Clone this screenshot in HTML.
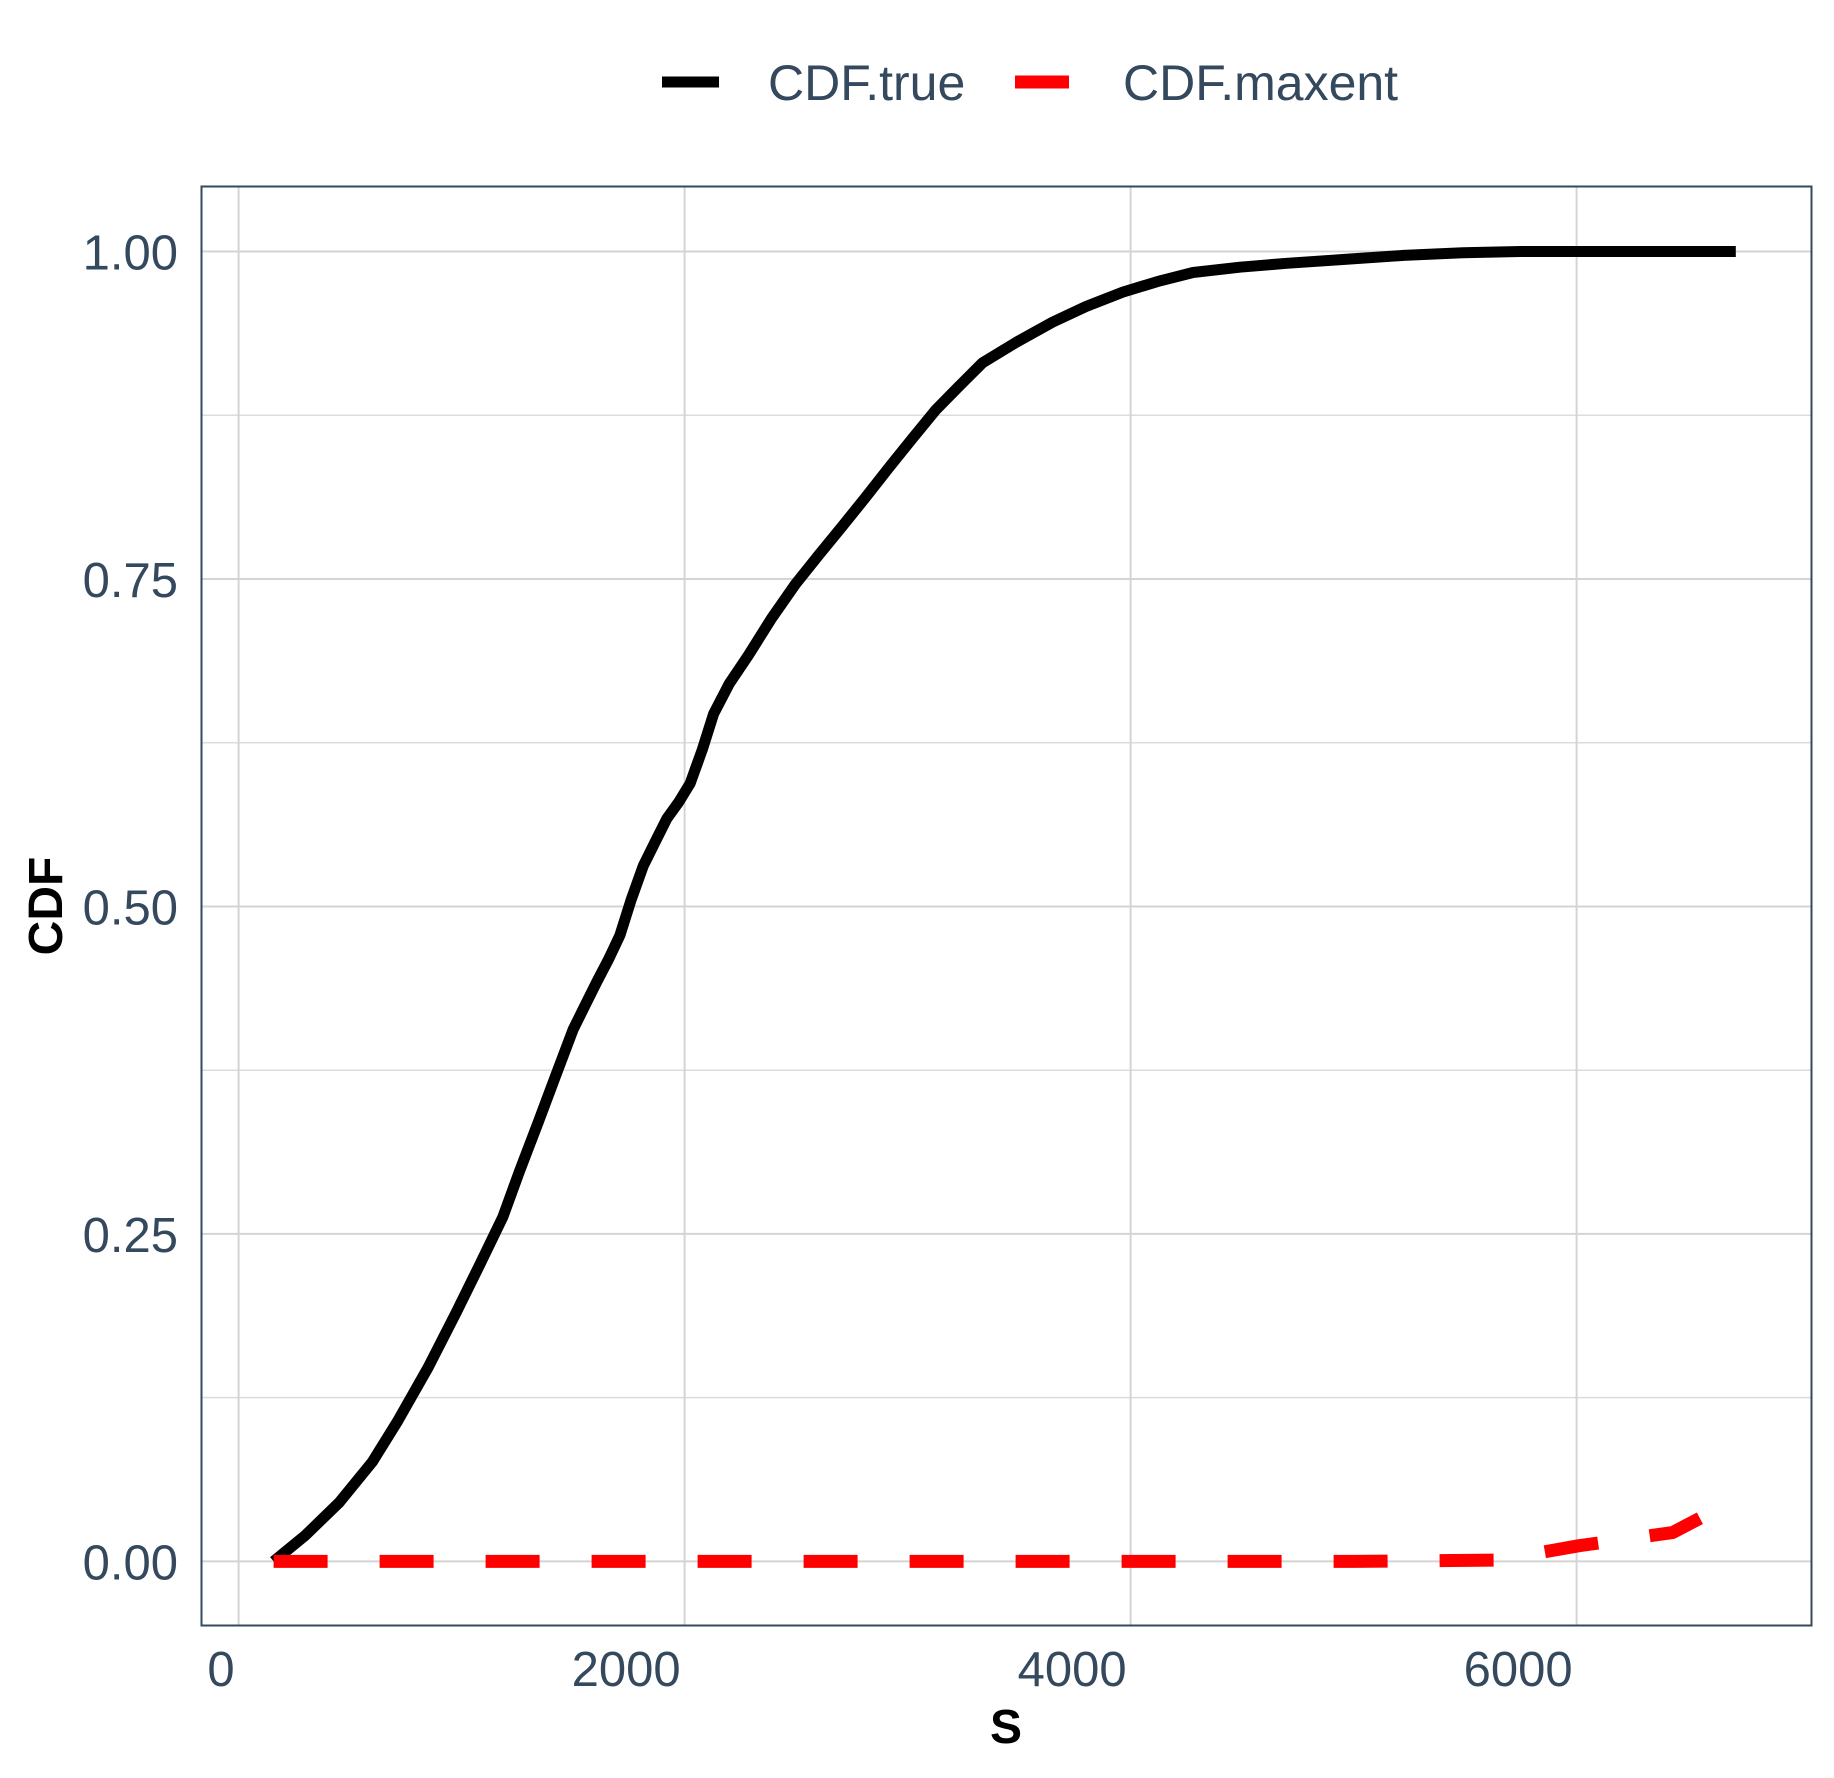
<!DOCTYPE html>
<html><head><meta charset="utf-8"><style>
body{margin:0;background:#fff;}
svg{display:block;font-family:"Liberation Sans",sans-serif;}
</style></head><body>
<svg id="chart" width="1834" height="1778" viewBox="0 0 1834 1778">
<g id="grid"></g>
<g id="series"></g>
<rect x="201.5" y="186.5" width="1610" height="1439" fill="none" stroke="#34495e" stroke-width="2"/>
<g id="ticks" fill="#34495e" font-size="49"></g>
<text x="1006" y="1743" text-anchor="middle" font-size="48" font-weight="bold" fill="#000">S</text>
<text transform="translate(62,906) rotate(-90)" text-anchor="middle" font-size="48" font-weight="bold" fill="#000">CDF</text>
<g>
<line x1="662" y1="82" x2="719" y2="82" stroke="#000" stroke-width="11"/>
<text x="768" y="100" font-size="50" fill="#34495e">CDF.true</text>
<line x1="1015" y1="82" x2="1069" y2="82" stroke="#ff0000" stroke-width="13"/>
<text x="1123" y="100" font-size="50" fill="#34495e">CDF.maxent</text>
</g>
</svg>
<script>
const xTicks=[0,2000,4000,6000];
const yTicks=[0,0.25,0.5,0.75,1];
const yTickLabels=["0.00","0.25","0.50","0.75","1.00"];
const yMinor=[0.125,0.375,0.625,0.875];
const trueS=[157,300,451,600,713,850,976,1080,1185,1260,1343,1420,1500,1555,1605,1660,1710,1760,1815,1870,1920,1975,2025,2080,2130,2200,2287,2390,2497,2600,2706,2810,2916,3020,3126,3230,3336,3490,3650,3800,3965,4120,4280,4490,4700,4960,5224,5490,5749,6200,6714];
const trueCDF=[0,0.02,0.045,0.076,0.107,0.148,0.19,0.226,0.263,0.298,0.335,0.37,0.406,0.425,0.442,0.46,0.478,0.505,0.531,0.55,0.567,0.58,0.594,0.62,0.647,0.67,0.692,0.72,0.746,0.768,0.79,0.812,0.835,0.857,0.879,0.897,0.915,0.931,0.946,0.958,0.969,0.977,0.984,0.988,0.991,0.994,0.997,0.999,1.0,1.0,1.0];
const maxS=[157,1000,2000,3000,4000,5000,5644,6011,6430,6588];
const maxCDF=[0,0,0,0,0,0,0.001,0.012,0.022,0.036];
const sx=v=>238.6+v*(1576.6-238.6)/6000;
const sy=v=>1561.4-v*(1561.4-251.5);
const NS="http://www.w3.org/2000/svg";
const grid=document.getElementById('grid'),ticks=document.getElementById('ticks'),ser=document.getElementById('series');
function ln(p,x1,y1,x2,y2,c,w){const l=document.createElementNS(NS,'line');l.setAttribute('x1',x1);l.setAttribute('y1',y1);l.setAttribute('x2',x2);l.setAttribute('y2',y2);l.setAttribute('stroke',c);l.setAttribute('stroke-width',w);p.appendChild(l);return l;}
yMinor.forEach(v=>{const l=ln(grid,201,sy(v),1811,sy(v),'#dcdcdc',1.5);

});
yTicks.forEach((v,i)=>{const l=ln(grid,201,sy(v),1811,sy(v),'#d4d4d4',2);


const t=document.createElementNS(NS,'text');t.setAttribute('x',178);t.setAttribute('y',sy(v)+18);t.setAttribute('text-anchor','end');t.textContent=yTickLabels[i];


ticks.appendChild(t);});
xTicks.forEach(v=>{const l=ln(grid,sx(v),186,sx(v),1626,'#d4d4d4',2);


const t=document.createElementNS(NS,'text');t.setAttribute('x',sx(v)-4);t.setAttribute('y',1686);t.setAttribute('text-anchor','end');t.textContent=String(v);


ticks.appendChild(t);});
function path(xs,ys,c,w,dash){const p=document.createElementNS(NS,'path');p.setAttribute('d',xs.map((x,i)=>(i?'L':'M')+sx(x).toFixed(1)+','+sy(ys[i]).toFixed(1)).join(''));p.setAttribute('fill','none');p.setAttribute('stroke',c);p.setAttribute('stroke-width',w);p.setAttribute('stroke-linejoin','round');if(dash)p.setAttribute('stroke-dasharray',dash);ser.appendChild(p);return p;}
const pt=path(trueS,trueCDF,'#000',11);


const pm=path(maxS,maxCDF,'#ff0000',13,'54 52');


</script>
</body></html>
